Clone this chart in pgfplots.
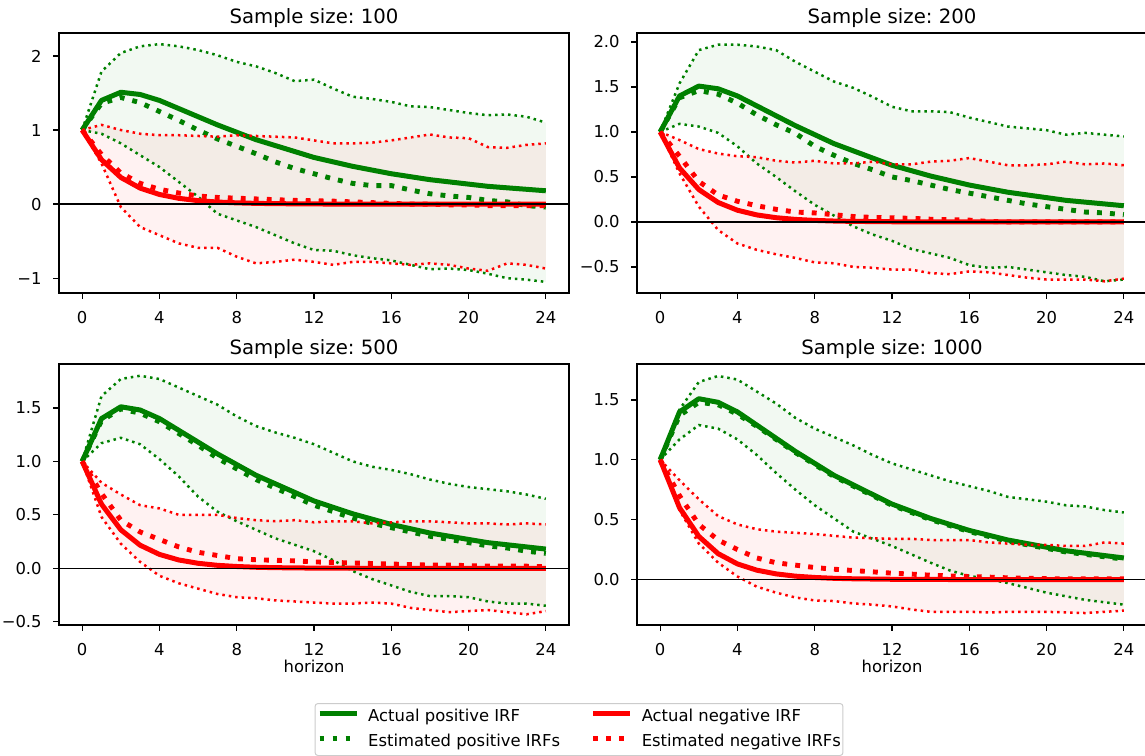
\documentclass[border=0pt]{standalone}
\usepackage{fontspec}
\setmainfont{DejaVu Sans}
\usepackage{pgfplots}
\pgfplotsset{compat=1.18}
\usepackage{pgfplotstable}
\usepgfplotslibrary{fillbetween}
\frenchspacing

\definecolor{mgreen}{RGB}{0,128,0}
\definecolor{mred}{RGB}{255,0,0}
\newcommand{\tickfont}{\fontsize{16.4pt}{19pt}\selectfont}
\newcommand{\titlefont}{\fontsize{19.7pt}{23pt}\selectfont}

% actual IRFs (same in all panels)
\pgfplotstableread{
h ap an
0 1.00 1.000
1 1.40 0.600
2 1.51 0.360
3 1.48 0.216
4 1.40 0.130
5 1.29 0.078
6 1.18 0.047
7 1.07 0.028
8 0.97 0.017
9 0.87 0.010
10 0.79 0.006
11 0.71 0.004
12 0.63 0.002
13 0.57 0.001
14 0.51 0.001
15 0.46 0.000
16 0.41 0.000
17 0.37 0.000
18 0.33 0.000
19 0.30 0.000
20 0.27 0.000
21 0.24 0.000
22 0.22 0.000
23 0.20 0.000
24 0.18 0.000
}\actualtab

% sample size 100
\pgfplotstableread{
h ep en pu pl nu nl
0 1.00 1.00 1.00 1.00 1.00 1.00
1 1.36 0.67 1.79 0.95 1.07 0.55
2 1.44 0.42 2.04 0.82 1.00 -0.04
3 1.37 0.28 2.13 0.66 0.95 -0.31
4 1.25 0.20 2.16 0.50 0.93 -0.42
5 1.13 0.15 2.13 0.30 0.93 -0.53
6 1.00 0.11 2.08 0.10 0.92 -0.59
7 0.88 0.09 2.01 -0.13 0.91 -0.59
8 0.78 0.08 1.92 -0.22 0.93 -0.71
9 0.68 0.07 1.86 -0.31 0.92 -0.80
10 0.57 0.06 1.77 -0.42 0.91 -0.78
11 0.48 0.05 1.66 -0.53 0.90 -0.75
12 0.41 0.045 1.68 -0.62 0.86 -0.78
13 0.34 0.04 1.56 -0.63 0.82 -0.82
14 0.28 0.03 1.45 -0.69 0.82 -0.78
15 0.25 0.02 1.42 -0.73 0.83 -0.78
16 0.25 0.01 1.38 -0.76 0.86 -0.80
17 0.19 0.00 1.32 -0.82 0.90 -0.82
18 0.14 0.00 1.31 -0.88 0.94 -0.80
19 0.11 -0.01 1.27 -0.87 0.90 -0.82
20 0.09 -0.01 1.23 -0.89 0.89 -0.87
21 0.05 -0.02 1.20 -0.94 0.77 -0.90
22 0.03 -0.02 1.21 -1.00 0.76 -0.80
23 -0.02 -0.02 1.18 -1.02 0.80 -0.82
24 -0.04 -0.02 1.10 -1.05 0.82 -0.87
}\pone

% sample size 200
\pgfplotstableread{
h ep en pu pl nu nl
0 1.00 1.00 1.00 1.00 1.00 1.00
1 1.38 0.73 1.54 1.09 0.91 0.54
2 1.46 0.45 1.91 1.06 0.81 0.17
3 1.42 0.30 1.97 0.99 0.76 -0.09
4 1.32 0.23 1.97 0.84 0.73 -0.24
5 1.19 0.18 1.95 0.65 0.72 -0.31
6 1.08 0.14 1.91 0.50 0.68 -0.36
7 0.985 0.11 1.78 0.34 0.66 -0.40
8 0.84 0.10 1.67 0.19 0.68 -0.45
9 0.74 0.08 1.56 0.07 0.65 -0.46
10 0.65 0.06 1.49 -0.05 0.65 -0.50
11 0.58 0.05 1.39 -0.14 0.67 -0.51
12 0.50 0.045 1.28 -0.21 0.64 -0.53
13 0.46 0.04 1.23 -0.30 0.64 -0.53
14 0.41 0.03 1.23 -0.35 0.67 -0.57
15 0.36 0.025 1.22 -0.40 0.68 -0.58
16 0.32 0.02 1.16 -0.48 0.71 -0.55
17 0.28 0.005 1.11 -0.51 0.67 -0.56
18 0.24 0.00 1.06 -0.50 0.63 -0.59
19 0.20 0.00 1.04 -0.53 0.63 -0.62
20 0.17 0.00 1.02 -0.56 0.64 -0.64
21 0.14 0.00 0.97 -0.59 0.67 -0.64
22 0.11 0.00 0.99 -0.61 0.64 -0.64
23 0.10 0.00 0.97 -0.66 0.65 -0.66
24 0.08 0.00 0.95 -0.64 0.63 -0.63
}\ptwo

% sample size 500
\pgfplotstableread{
h ep en pu pl nu nl
0 1.00 1.00 1.00 1.00 1.00 1.00
1 1.38 0.70 1.61 1.17 0.80 0.48
2 1.49 0.45 1.77 1.22 0.69 0.23
3 1.45 0.34 1.80 1.16 0.59 0.06
4 1.37 0.27 1.77 1.02 0.56 -0.07
5 1.26 0.20 1.69 0.86 0.50 -0.14
6 1.15 0.15 1.61 0.67 0.50 -0.19
7 1.03 0.12 1.53 0.53 0.50 -0.24
8 0.93 0.09 1.42 0.44 0.47 -0.27
9 0.83 0.08 1.33 0.36 0.45 -0.28
10 0.75 0.075 1.27 0.28 0.44 -0.30
11 0.67 0.07 1.22 0.22 0.45 -0.31
12 0.59 0.06 1.16 0.16 0.43 -0.32
13 0.53 0.055 1.08 0.075 0.44 -0.33
14 0.47 0.05 1.00 -0.025 0.44 -0.33
15 0.42 0.045 0.95 -0.10 0.42 -0.32
16 0.38 0.04 0.92 -0.16 0.43 -0.33
17 0.34 0.035 0.88 -0.22 0.44 -0.37
18 0.30 0.03 0.83 -0.26 0.44 -0.39
19 0.27 0.03 0.79 -0.26 0.43 -0.41
20 0.24 0.025 0.76 -0.27 0.42 -0.40
21 0.21 0.02 0.74 -0.31 0.42 -0.39
22 0.19 0.02 0.72 -0.33 0.41 -0.41
23 0.16 0.02 0.69 -0.33 0.42 -0.43
24 0.14 0.015 0.65 -0.35 0.41 -0.40
}\pthree

% sample size 1000
\pgfplotstableread{
h ep en pu pl nu nl
0 1.00 1.00 1.00 1.00 1.00 1.00
1 1.37 0.70 1.42 1.17 0.83 0.58
2 1.48 0.46 1.65 1.29 0.67 0.30
3 1.46 0.33 1.70 1.26 0.53 0.14
4 1.38 0.25 1.67 1.17 0.46 0.025
5 1.28 0.18 1.57 1.04 0.42 -0.06
6 1.17 0.14 1.47 0.89 0.40 -0.11
7 1.06 0.12 1.35 0.75 0.39 -0.15
8 0.96 0.10 1.26 0.62 0.38 -0.175
9 0.86 0.086 1.19 0.51 0.365 -0.18
10 0.78 0.075 1.12 0.40 0.35 -0.20
11 0.70 0.064 1.04 0.34 0.345 -0.21
12 0.62 0.053 0.97 0.28 0.34 -0.225
13 0.56 0.045 0.92 0.21 0.34 -0.25
14 0.50 0.036 0.87 0.14 0.33 -0.27
15 0.45 0.03 0.82 0.075 0.33 -0.27
16 0.40 0.025 0.78 0.03 0.33 -0.27
17 0.36 0.02 0.74 0.003 0.31 -0.275
18 0.32 0.014 0.69 -0.03 0.30 -0.27
19 0.29 0.011 0.67 -0.07 0.29 -0.27
20 0.26 0.008 0.65 -0.11 0.29 -0.27
21 0.23 0.005 0.62 -0.14 0.28 -0.275
22 0.21 0.005 0.61 -0.17 0.28 -0.28
23 0.19 0.005 0.58 -0.19 0.31 -0.27
24 0.17 0.005 0.56 -0.21 0.30 -0.26
}\pfour

\pgfplotsset{
  irfactual/.style={line width=5pt, solid, line cap=butt, line join=round},
  irfest/.style={line width=4.9pt, dash pattern=on 4.9pt off 8.1pt, line cap=butt},
  irfband/.style={line width=2.5pt, dash pattern=on 2.5pt off 4pt, line cap=butt},
  irf/.style={
    scale only axis, width=510pt,
    xmin=-1.2, xmax=25.2,
    xtick={0,4,8,12,16,20,24},
    xticklabels={0,4,8,12,16,20,24},
    xtick pos=left, ytick pos=left,
    tick align=outside,
    major tick length=5.7pt,
    every tick/.style={black, line width=1.3pt},
    axis line style={black, line width=1.3pt},
    tick label style={font=\tickfont},
    xticklabel style={anchor=base, inner sep=0pt, yshift=-24.5pt},
    yticklabel style={anchor=east, inner sep=0pt, xshift=-11.5pt},
    every axis title shift=0pt,
    title style={font=\titlefont, at={(0.5,1)}, anchor=base, yshift=9.8pt},
    xlabel style={font=\tickfont, at={(0.5,0)}, anchor=base, yshift=-47pt},
  },
}

\newcommand{\irfpanel}[1]{%
  \addplot[draw=none, name path=gu, forget plot] table[x=h,y=pu]{#1};
  \addplot[draw=none, name path=gl, forget plot] table[x=h,y=pl]{#1};
  \addplot[draw=none, name path=ru, forget plot] table[x=h,y=nu]{#1};
  \addplot[draw=none, name path=rl, forget plot] table[x=h,y=nl]{#1};
  \addplot[fill=mgreen, fill opacity=0.05, draw=none, forget plot] fill between[of=gu and gl];
  \addplot[fill=mred, fill opacity=0.05, draw=none, forget plot] fill between[of=ru and rl];
  \addplot[mgreen, irfband, forget plot] table[x=h,y=pu]{#1};
  \addplot[mgreen, irfband, forget plot] table[x=h,y=pl]{#1};
  \addplot[mgreen, irfactual, forget plot] table[x=h,y=ap]{\actualtab};
  \addplot[mgreen, irfest, forget plot] table[x=h,y=ep]{#1};
  \addplot[mred, irfband, forget plot] table[x=h,y=nu]{#1};
  \addplot[mred, irfband, forget plot] table[x=h,y=nl]{#1};
  \addplot[mred, irfactual, forget plot] table[x=h,y=an]{\actualtab};
  \addplot[mred, irfest, forget plot] table[x=h,y=en]{#1};
  \addplot[black, line width=1.3pt, forget plot] coordinates {(-1.2,0) (25.2,0)};
}

\begin{document}
\begin{tikzpicture}

\begin{axis}[irf, height=260pt, at={(59pt,-33pt)}, anchor=north west,
  title={Sample size: 100},
  ymin=-1.2, ymax=2.31,
  ytick={-1,0,1,2}, yticklabels={−1,0,1,2}]
\irfpanel{\pone}
\end{axis}

\begin{axis}[irf, height=260pt, at={(637pt,-33pt)}, anchor=north west,
  title={Sample size: 200},
  ymin=-0.79, ymax=2.10,
  ytick={-0.5,0,0.5,1,1.5,2}, yticklabels={−0.5,0.0,0.5,1.0,1.5,2.0}]
\irfpanel{\ptwo}
\end{axis}

\begin{axis}[irf, height=261pt, at={(59pt,-364pt)}, anchor=north west,
  title={Sample size: 500}, xlabel={horizon},
  ymin=-0.53, ymax=1.91,
  ytick={-0.5,0,0.5,1,1.5}, yticklabels={−0.5,0.0,0.5,1.0,1.5},
  legend columns=2,
  legend image code/.code={\draw[#1] (0pt,0.35em) -- (37pt,0.35em);},
  legend style={at={(1.0196,-0.2989)}, anchor=north,
    draw=black!20, line width=1pt, rounded corners=3pt, fill=white,
    inner xsep=2pt, inner ysep=6pt,
    font=\tickfont,
    nodes={inner sep=0pt, text height=12pt, text depth=3.5pt},
    row sep=9pt,
    /tikz/every odd column/.append style={column sep=9.2pt},
    /tikz/every even column/.append style={column sep=30.5pt}},
  legend cell align=left]
\irfpanel{\pthree}
\addlegendimage{mgreen, irfactual}
\addlegendentry{Actual positive IRF}
\addlegendimage{mred, irfactual}
\addlegendentry{Actual negative IRF}
\addlegendimage{mgreen, irfest}
\addlegendentry{Estimated positive IRFs}
\addlegendimage{mred, irfest}
\addlegendentry{Estimated negative IRFs}
\end{axis}

\begin{axis}[irf, height=261pt, at={(637pt,-364pt)}, anchor=north west,
  title={Sample size: 1000}, xlabel={horizon},
  ymin=-0.38, ymax=1.80,
  ytick={0,0.5,1,1.5}, yticklabels={0.0,0.5,1.0,1.5}]
\irfpanel{\pfour}
\end{axis}

\pgfresetboundingbox
\path[use as bounding box] (0pt,0pt) rectangle (1145pt,-755pt);
\end{tikzpicture}
\end{document}
